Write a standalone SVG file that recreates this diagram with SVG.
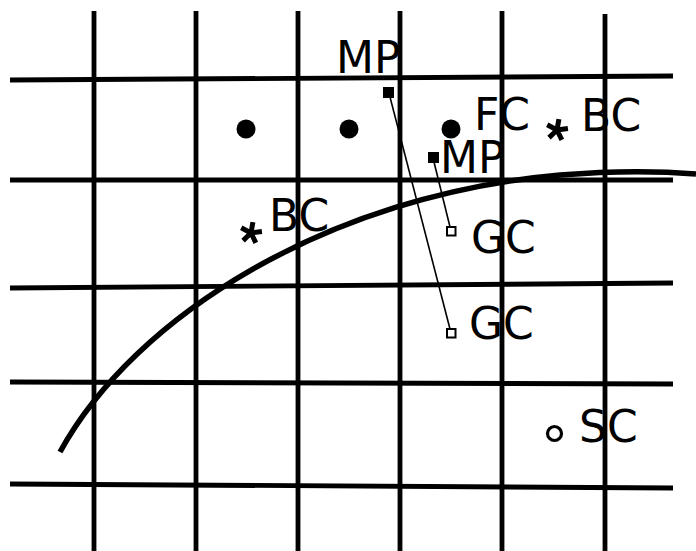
<svg xmlns="http://www.w3.org/2000/svg" width="696" height="551" viewBox="0 0 696 551">
  <style>
    .grid { stroke: #000; stroke-width: 4.8; fill: none; }
    .curve { stroke: #000; stroke-width: 5.5; fill: none; stroke-linecap: butt; }
    .lbl { font-family: "DejaVu Sans", "Liberation Sans", sans-serif; font-size: 44px; fill: #000; }
    .conn { stroke: #000; stroke-width: 1.6; fill: none; }
    .mp { fill: #000; }
    .gc { fill: #fff; stroke: #000; stroke-width: 2; }
    .fc { fill: #000; }
    .sc { fill: none; stroke: #000; stroke-width: 3.2; }
    .star { stroke: #000; stroke-width: 5; fill: none; }
  </style>
  <defs>
    <path id="ast" d="M0,0L0,-11M0,0L10.5,-3.4M0,0L6.5,8.9M0,0L-6.5,8.9M0,0L-10.5,-3.4"/>
  </defs>
  <rect width="696" height="551" fill="#fff"/>
  <g id="grid">
    <line class="grid" x1="94" y1="11" x2="94" y2="551"/>
    <line class="grid" x1="196" y1="11" x2="196" y2="551"/>
    <line class="grid" x1="298" y1="11" x2="298" y2="551"/>
    <line class="grid" x1="400" y1="11" x2="400" y2="551"/>
    <line class="grid" x1="502" y1="11" x2="502" y2="551"/>
    <line class="grid" x1="605" y1="14" x2="605" y2="551"/>
    <line class="grid" x1="10" y1="80" x2="673" y2="76" stroke-width="6"/>
    <line class="grid" x1="10" y1="180" x2="673" y2="180"/>
    <line class="grid" x1="10" y1="288" x2="673" y2="283"/>
    <line class="grid" x1="10" y1="382" x2="673" y2="384"/>
    <line class="grid" x1="10" y1="484" x2="673" y2="488"/>
  </g>
  <path id="boundary" class="curve" d="M60,452 C135,315 330,195 560,175 C620,170 660,171 696,174"/>
  <g id="connectors">
    <line class="conn" x1="390" y1="97" x2="450" y2="329"/>
    <line class="conn" x1="434" y1="162" x2="450" y2="227"/>
  </g>
  <g id="mp1">
    <rect class="mp" x="383" y="87" width="11" height="11"/>
    <text class="lbl" x="336" y="73">MP</text>
  </g>
  <g id="mp2">
    <rect class="mp" x="428" y="152" width="11" height="11"/>
    <text class="lbl" x="440" y="173">MP</text>
  </g>
  <g id="fc1"><circle class="fc" cx="246" cy="129" r="9.5"/></g>
  <g id="fc2"><circle class="fc" cx="349" cy="129" r="9.5"/></g>
  <g id="fc3">
    <circle class="fc" cx="451" cy="129" r="9.5"/>
    <text class="lbl" x="474" y="130">FC</text>
  </g>
  <g id="bc1">
    <use href="#ast" class="star" transform="translate(251,233) rotate(10)"/>
    <text class="lbl" x="269" y="231">BC</text>
  </g>
  <g id="bc2">
    <use href="#ast" class="star" transform="translate(557,130) rotate(10)"/>
    <text class="lbl" x="581" y="131">BC</text>
  </g>
  <g id="gc1">
    <rect class="gc" x="447" y="227" width="8.5" height="8.5"/>
    <text class="lbl" x="471" y="253">GC</text>
  </g>
  <g id="gc2">
    <rect class="gc" x="447" y="329" width="8.5" height="8.5"/>
    <text class="lbl" x="469" y="339">GC</text>
  </g>
  <g id="sc">
    <circle class="sc" cx="554.5" cy="433.5" r="7"/>
    <text class="lbl" x="579" y="442">SC</text>
  </g>
</svg>
